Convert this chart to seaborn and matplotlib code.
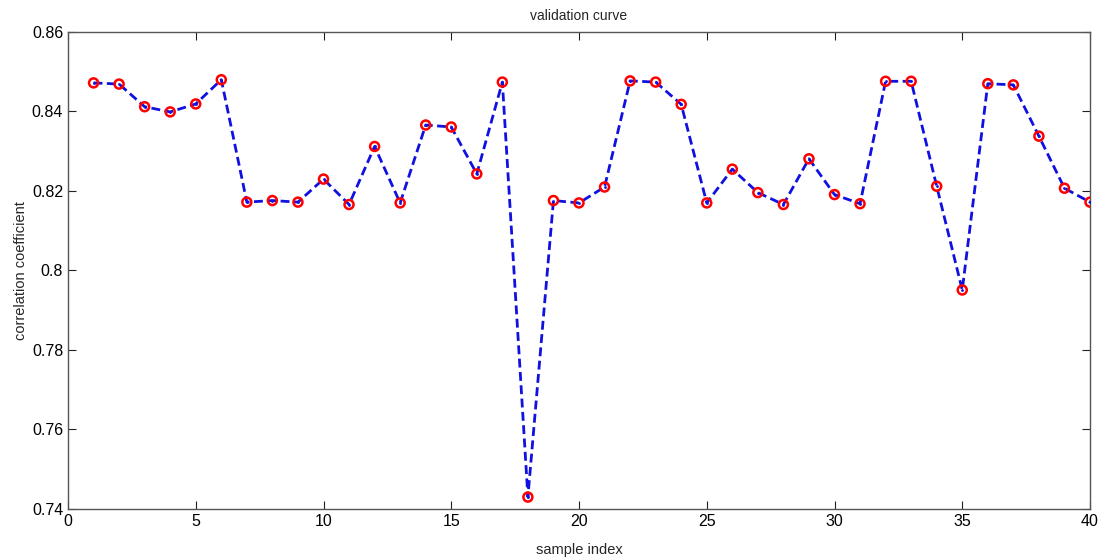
import matplotlib
matplotlib.use("Agg")
import matplotlib.pyplot as plt
import seaborn as sns
import numpy as np
import pandas as pd

sample_index = list(range(1, 41))
corr = [0.8472, 0.8469, 0.8412, 0.8399, 0.8419, 0.8480, 0.8172, 0.8176, 0.8172, 0.8230,
        0.8166, 0.8312, 0.8170, 0.8366, 0.8361, 0.8243, 0.8474, 0.7430, 0.8176, 0.8170,
        0.8210, 0.8477, 0.8474, 0.8418, 0.8170, 0.8255, 0.8196, 0.8166, 0.8281, 0.8191,
        0.8168, 0.8476, 0.8476, 0.8212, 0.7951, 0.8470, 0.8467, 0.8338, 0.8207, 0.8172]
xticks = [0, 5, 10, 15, 20, 25, 30, 35, 40]
yticks = [0.74, 0.76, 0.78, 0.80, 0.82, 0.84, 0.86]
yticklabels = ["0.74", "0.76", "0.78", "0.8", "0.82", "0.84", "0.86"]

df = pd.DataFrame({"sample index": sample_index, "correlation coefficient": corr})

sns.set_style("white")
plt.rcParams['font.family'] = ['Liberation Sans', 'DejaVu Sans']

fig = plt.figure(figsize=(11.01, 5.6), dpi=100)
ax = fig.add_axes([68/1101, 1-509/560, (1090-68)/1101, (509-32)/560])

sns.lineplot(data=df, x="sample index", y="correlation coefficient", ax=ax,
             color="#1010e0", linestyle=(0, (3.2, 1.6)), linewidth=2.0, zorder=2)
sns.scatterplot(data=df, x="sample index", y="correlation coefficient", ax=ax,
                marker="o", s=42, facecolor="none", edgecolor="#ff0000", linewidth=1.8, zorder=3)
sns.scatterplot(data=df, x="sample index", y="correlation coefficient", ax=ax,
                marker="o", s=4, color="#1010e0", linewidth=0, zorder=4)

ax.set_xlim(0, 40)
ax.set_ylim(0.74, 0.86)
ax.set_xticks(xticks)
ax.set_xticklabels([str(t) for t in xticks])
ax.set_yticks(yticks)
ax.set_yticklabels(yticklabels)
ax.tick_params(direction="in", length=6, width=0.8, colors="#222222", labelsize=11.5,
               top=True, right=True, bottom=True, left=True, labelcolor="black")
for s in ax.spines.values():
    s.set_color("#555555")
    s.set_linewidth(1.0)
ax.set_xlabel("sample index", fontsize=10.5, labelpad=10)
ax.set_ylabel("correlation coefficient", fontsize=10.5, labelpad=3)
ax.set_title("validation curve", fontsize=10, pad=9)

fig.savefig("out.png", dpi=100)
